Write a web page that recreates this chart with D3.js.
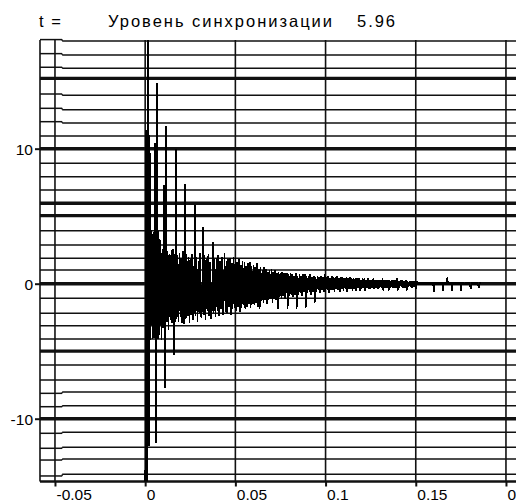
<!DOCTYPE html>
<html><head><meta charset="utf-8">
<script src="https://cdn.jsdelivr.net/npm/d3@7"></script>
<style>
html,body{margin:0;padding:0;background:#fff;}
svg{display:block;}
text{font-family:"Liberation Sans",Arial,sans-serif;fill:#000;}
</style>
</head><body>
<svg id="chart" width="516" height="504"></svg>
<script>
// Axis ticks
const xTicks = [-0.05, 0, 0.05, 0.1, 0.15, 0.2];
const xTickLabels = ["-0.05", "0", "0.05", "0.1", "0.15", "0.2"];
const yTicks = [10, 0, -10];
const yTickLabels = ["10", "0", "-10"];

// Horizontal level lines (main part) and their values inside the left margin box
const levelLines = [17.98, 16.94, 15.96, 15.21, 13.96, 12.89, 11.9, 10.94, 10, 8.92, 7.93, 6.94, 5.96, 5.04,
  3.93, 2.87, 1.88, 1.01, 0, -1.08, -2.19, -3.11, -4.1, -4.99, -6.02, -7.13, -8.02, -9.04, -10,
  -11.0, -12.12, -12.99, -14.12];
const levelBox = [18.08, 17.04, 16.03, 15.21, 14.05, 12.99, 12.0, 10.94, 10, 8.92, 7.93, 6.94, 5.96, 5.04,
  3.93, 2.87, 1.88, 1.01, 0, -1.08, -2.19, -3.11, -4.1, -4.99, -6.02, -7.13, -8.12, -9.11, -10,
  -11.08, -12.19, -13.06, -14.24];
const heavyLevels = [15.21, 10, 5.96, 5.04, 0, -4.99, -10];

// Header
const headerLeft = "t =";
const headerLabel = "Уровень синхронизации";
const syncLevel = 5.96;

// Recorded response, one value per sample (0.5 ms) starting at t = 0
const sampleStep = 0.0005;
const signal = [
  -17, 11.4, -17, 22, -12, 11.0, -4.2, 4.0, -4.1, 3.8,
  -4.0, 10.4, -11.8, 14.9, -4.1, 3.9, -3.8, 3.2, -4.2, 2.6,
  -3.3, 7.3, -7.7, 11.7, -2.8, 2.4, -3.4, 2.2, -2.7, 2.5,
  -2.9, 2.6, -5.3, -2.3, 10.0, -2.6, 2.1, -2.8, 2.3, -2.5,
  1.9, -2.9, 2.4, -3.0, 7.4, -2.6, 2.2, -2.4, 2.0, -2.9,
  1.8, -2.3, 2.2, -2.7, -2.1, 5.8, -2.4, 2.0, -2.8, 1.7,
  -2.2, 2.3, -2.5, -2.0, 4.2, -2.3, 2.1, -2.7, 1.8, -2.0,
  2.2, -2.4, 1.6, -2.6, -1.9, 3.1, -2.2, 1.8, -2.5, 1.9,
  -2.0, 2.1, -2.4, 1.7, -1.9, 2.0, -2.3, -1.8, 2.3, -2.1,
  1.7, -2.2, 1.8, -1.7, 1.9, -2.3, 1.5, -1.9, 2.0, -1.8,
  1.9, -2.0, 1.6, -1.7, 1.8, -2.1, 1.4, -1.8, 1.7, -1.6,
  1.6, -1.9, 1.3, -1.7, 1.5, -1.5, 1.6, -1.8, 1.3, -1.5,
  1.4, -1.6, 1.2, -1.4, 1.5, -1.7, 1.1, -1.9, 1.2, -1.3,
  1.0, -1.4, 1.2, -1.2, 1.1, -1.5, 0.9, -1.2, 1.0, -1.1,
  1.1, -1.4, 0.9, -1.1, 1.0, -1.2, 0.8, -1.9, 0.9, -1.0,
  0.8, -1.1, 0.9, -0.9, 0.8, -1.1, 0.7, 0.8, -1.9, 0.7,
  -0.9, 0.8, -0.8, 0.7, -1.0, 0.6, -0.8, 0.8, -1.9, 0.6,
  -0.8, 0.7, -0.7, 0.6, -0.9, 0.7, -0.6, 0.7, -1.8, 0.6,
  -0.7, 0.6, -0.6, 0.7, -0.8, 0.5, -0.6, 0.6, -1.4, 0.5,
  -0.6, 0.6, -0.5, 0.5, -0.7, 0.6, -0.5, 0.5, -0.6, 0.7,
  -0.6, 0.5, -0.5, 0.6, -0.7, 0.4, -0.5, 0.6, -0.5, 0.5,
  -0.6, 0.5, -0.4, 0.6, -0.5, 0.4, -0.6, 0.5, -0.4, 0.5,
  -0.5, 0.4, -0.4, 0.5, -0.6, 0.4, -0.4, 0.5, -0.4, 0.4,
  -0.5, 0.4, -0.4, 0.4, -0.5, 0.4, -0.3, 0.4, -0.5, 0.3,
  -0.4, 0.4, -0.3, 0.4, -0.5, 0.3, -0.3, 0.4, -0.4, 0.3,
  -0.4, 0.3, -0.3, 0.4, -0.4, 0.3, -0.3, 0.3, -0.4, 0.3,
  -0.3, 0.3, -0.3, 0.4, -0.5, 0.3, -0.3, 0.3, -0.3, 0.3,
  -0.5, 0.3, -0.3, 0.3, -0.3, 0.3, -0.3, 0.3, -0.3, 0.4,
  -0.5, 0.2, -0.3, 0.3, -0.2, 0.3, -0.3, 0.2, -0.3, 0.3,
  -0.5, 0.2, -0.2, 0.2, -0.2, 0.2, -0.3, 0.2, -0.2, 0.2,
  -0.4, 0.2, -0.1, 0.1, -0.1, 0.1, -0.1, 0.1, -0.1, 0.1,
  -0.1, 0.1, -0.1, 0.1, -0.1, 0.1, -0.1, 0.1, -0.1, 0.1,
  -0.6, 0.1, -0.1, 0.1, -0.1, 0.1, -0.1, 0.1, -0.1, 0.1,
  -0.5, 0.1, -0.1, 0.1, -0.1, 0.5, -0.1, 0.1, -0.1, 0.1,
  -0.5, 0.1, -0.1, 0.1, -0.1, 0.1, -0.1, 0.1, -0.1, 0.1,
  -0.5, 0.1, -0.1, 0.1, -0.1, 0.1, -0.1, 0.1, -0.1, 0.1,
  -0.1, -0.4, 0.1, -0.1, 0.1, -0.1, 0.1, -0.1, 0.1, -0.1,
  -0.3, 0.1, 0
];

const svg = d3.select("#chart");
const W = 516, H = 504;
const plot = {left: 40, top: 40, bottom: 481.5};

const x = d3.scaleLinear().domain([-0.0583, 0.21]).range([plot.left, 524]);
const y = d3.scaleLinear().domain([-14.65, 18.05]).range([plot.bottom, plot.top]);
const boxEndT = -0.046;   // where the margin box segments step over to the main lines

svg.append("defs").append("clipPath").attr("id", "plotClip")
  .append("rect").attr("x", plot.left).attr("y", plot.top)
  .attr("width", W - plot.left).attr("height", plot.bottom - plot.top);

const ink = "#111";

// Level lines
const levels = svg.append("g");
levelLines.forEach((v, i) => {
  const heavy = heavyLevels.includes(v);
  const w = heavy ? 3.4 : 1.5;
  const b = levelBox[i];
  if (b !== v) {
    levels.append("line").attr("x1", plot.left).attr("x2", x(boxEndT))
      .attr("y1", y(b)).attr("y2", y(b)).attr("stroke", ink).attr("stroke-width", w);
    levels.append("line").attr("x1", x(boxEndT)).attr("x2", x(boxEndT))
      .attr("y1", y(b)).attr("y2", y(v)).attr("stroke", ink).attr("stroke-width", 1.2);
    levels.append("line").attr("x1", x(boxEndT)).attr("x2", W)
      .attr("y1", y(v)).attr("y2", y(v)).attr("stroke", ink).attr("stroke-width", w);
  } else {
    levels.append("line").attr("x1", plot.left).attr("x2", W)
      .attr("y1", y(v)).attr("y2", y(v)).attr("stroke", ink).attr("stroke-width", w);
  }
});

// Vertical grid lines and left frame
const vgrid = svg.append("g");
[x.domain()[0]].concat(xTicks).forEach(t => {
  vgrid.append("line").attr("x1", x(t)).attr("x2", x(t))
    .attr("y1", plot.top).attr("y2", plot.bottom)
    .attr("stroke", ink).attr("stroke-width", 1.6);
});
// bottom frame
svg.append("line").attr("x1", plot.left).attr("x2", W)
  .attr("y1", plot.bottom).attr("y2", plot.bottom)
  .attr("stroke", ink).attr("stroke-width", 2.4);

// Signal trace (aliased, like a plain plotter trace)
const line = d3.line().x((d, i) => x(i * sampleStep)).y(d => y(d));
svg.append("path").datum(signal)
  .attr("clip-path", "url(#plotClip)")
  .attr("d", line)
  .attr("fill", "none").attr("stroke", "#000").attr("stroke-width", 1.5)
  .attr("shape-rendering", "crispEdges")
  .attr("stroke-linejoin", "miter").attr("stroke-miterlimit", 2);

// X axis
const xAxis = d3.axisBottom(x).tickValues(xTicks).tickSize(5)
  .tickFormat((d, i) => xTickLabels[i]);
const gx = svg.append("g").attr("transform", `translate(0,${plot.bottom})`).call(xAxis);
gx.select(".domain").remove();
gx.selectAll(".tick line").attr("stroke", ink).attr("stroke-width", 2);
gx.selectAll(".tick text").attr("text-anchor", "start").attr("x", 1).attr("y", 18.5).attr("dy", 0)
  .attr("font-size", 15.5).attr("fill", "#000").attr("font-family", "Liberation Sans, Arial, sans-serif");

// Y axis
const yAxis = d3.axisLeft(y).tickValues(yTicks).tickSize(5)
  .tickFormat((d, i) => yTickLabels[i]);
const gy = svg.append("g").attr("transform", `translate(${plot.left},0)`).call(yAxis);
gy.select(".domain").remove();
gy.selectAll(".tick line").attr("stroke", ink).attr("stroke-width", 2);
gy.selectAll(".tick text").attr("x", -7).attr("dy", "0.36em")
  .attr("font-size", 15.5).attr("fill", "#000").attr("font-family", "Liberation Sans, Arial, sans-serif");

// Header line
svg.append("text").attr("x", 39).attr("y", 27).attr("font-size", 16.5)
  .attr("textLength", 22).attr("lengthAdjust", "spacing").text(headerLeft);
svg.append("text").attr("x", 108).attr("y", 27).attr("font-size", 16.5)
  .attr("textLength", 224).attr("lengthAdjust", "spacing").text(headerLabel);
svg.append("text").attr("x", 357).attr("y", 27).attr("font-size", 16.5)
  .attr("textLength", 38).attr("lengthAdjust", "spacing").text(syncLevel.toFixed(2));
</script>
</body></html>
